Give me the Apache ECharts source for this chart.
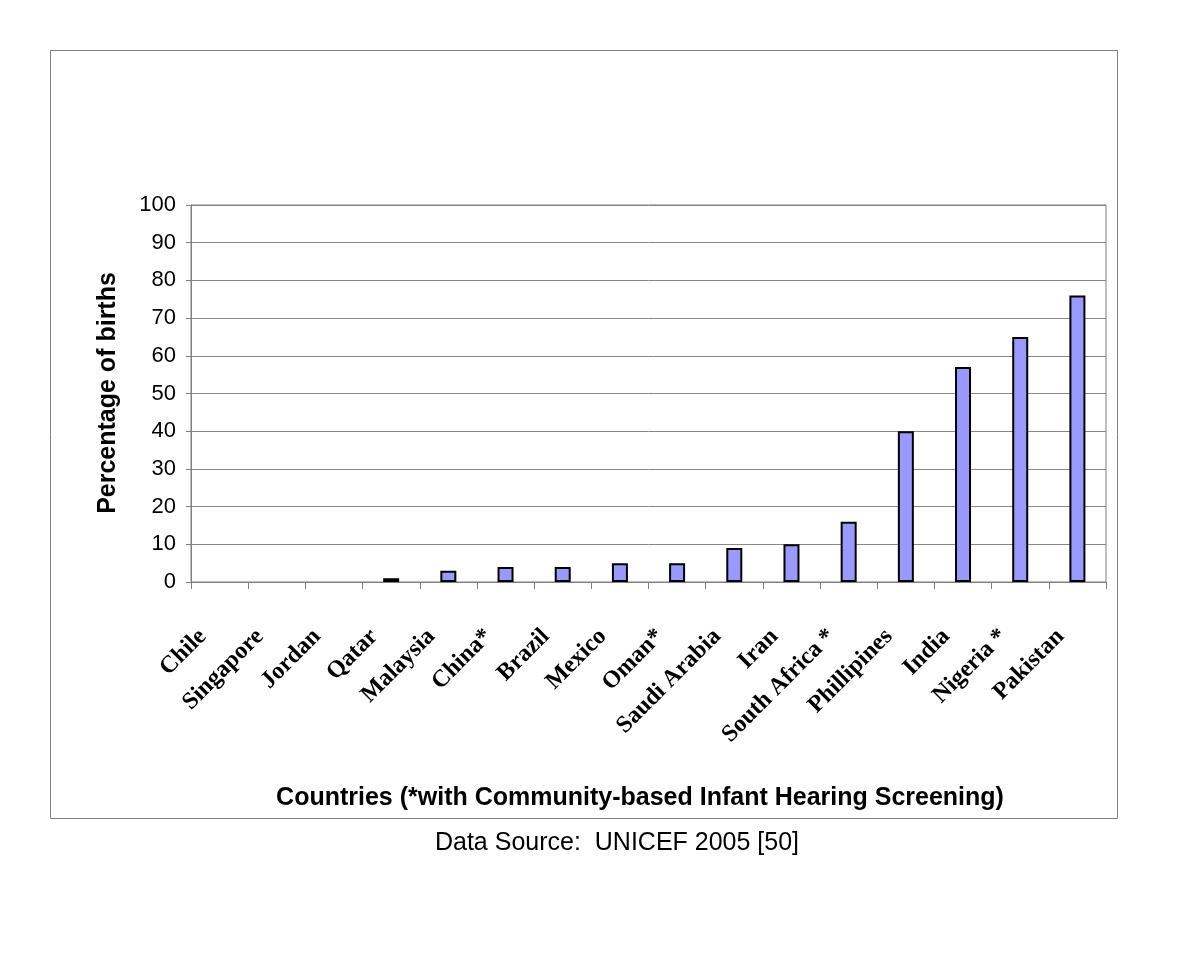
<!DOCTYPE html>
<html>
<head>
<meta charset="utf-8">
<script src="https://cdn.jsdelivr.net/npm/echarts@6/dist/echarts.min.js"></script>
<style>
html,body{margin:0;padding:0;background:#fff;}
#chart{width:1200px;height:960px;}
</style>
</head>
<body>
<div id="chart"></div>
<script>
const countries = ['Chile','Singapore','Jordan','Qatar','Malaysia','China*','Brazil','Mexico','Oman*','Saudi Arabia','Iran','South Africa *','Phillipines','India','Nigeria *','Pakistan'];
const percentBirths = [0, 0, 0, 1, 3, 4, 4, 5, 5, 9, 10, 16, 40, 57, 65, 76];
const yTicks = {min: 0, max: 100, interval: 10};
const yTitle = 'Percentage of births';
const xTitle = 'Countries (*with Community-based Infant Hearing Screening)';
const sourceNote = 'Data Source:  UNICEF 2005 [50]';

const barData = percentBirths.map(v => v === 0
  ? {value: v, itemStyle: {borderWidth: 0, color: 'rgba(0,0,0,0)'}}
  : v);

const chart = echarts.init(document.getElementById('chart'), null, {renderer: 'canvas'});
chart.setOption({
  animation: false,
  backgroundColor: '#ffffff',
  grid: {left: 191, top: 205, right: 94, bottom: 378, show: true, borderColor: '#808080', borderWidth: 1, backgroundColor: 'transparent'},
  xAxis: {
    type: 'category',
    data: countries,
    axisLine: {lineStyle: {color: '#808080', width: 1}},
    axisTick: {show: true, alignWithLabel: false, length: 7, lineStyle: {color: '#808080'}},
    axisLabel: {rotate: 45, interval: 0, margin: 34, fontFamily: 'Liberation Serif', fontWeight: 'bold', fontSize: 24, color: '#000', padding: [0, 24, 0, 0]},
    splitLine: {show: false}
  },
  yAxis: {
    type: 'value',
    min: yTicks.min, max: yTicks.max, interval: yTicks.interval,
    axisLine: {show: true, lineStyle: {color: '#808080', width: 1}},
    axisTick: {show: true, length: 5, lineStyle: {color: '#808080'}},
    axisLabel: {margin: 15, fontFamily: 'Liberation Sans', fontSize: 22, color: '#000'},
    splitLine: {show: true, lineStyle: {color: '#888888', width: 1}}
  },
  series: [{
    type: 'bar',
    data: barData,
    barWidth: 16,
    itemStyle: {color: '#9999ff', borderColor: '#000', borderWidth: 2}
  }],
  graphic: [
    {type: 'rect', shape: {x: 50.5, y: 50.5, width: 1067, height: 768}, style: {fill: 'none', stroke: '#808080', lineWidth: 1}, silent: true},
    {type: 'text', x: 108, y: 393, rotation: Math.PI / 2, style: {text: yTitle, font: 'bold 25px "Liberation Sans"', fill: '#000', textAlign: 'center', textVerticalAlign: 'middle'}},
    {type: 'text', x: 640, y: 798, style: {text: xTitle, font: 'bold 25px "Liberation Sans"', fill: '#000', textAlign: 'center', textVerticalAlign: 'middle'}},
    {type: 'text', x: 617, y: 843, style: {text: sourceNote, font: '25px "Liberation Sans"', fill: '#000', textAlign: 'center', textVerticalAlign: 'middle'}}
  ]
});
</script>
</body>
</html>
